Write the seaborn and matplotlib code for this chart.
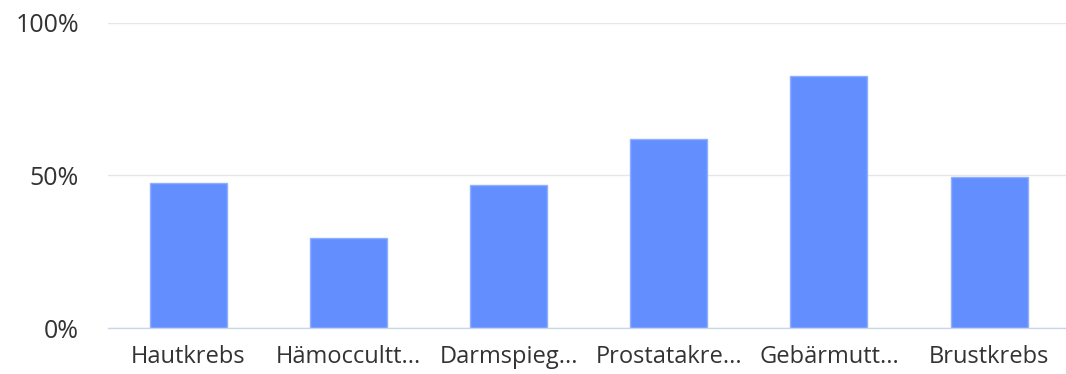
import matplotlib
matplotlib.use("Agg")
import matplotlib.pyplot as plt
import seaborn as sns
import pandas as pd
from matplotlib.ticker import FuncFormatter

categories = ["Hautkrebs", "Hämoccultt...", "Darmspieg...", "Prostatakre...", "Gebärmutt...", "Brustkrebs"]
shares = [47.6, 29.6, 47.0, 62.0, 82.5, 49.4]
y_ticks = [0, 50, 100]

df = pd.DataFrame({"kategorie": categories, "anteil": shares})

sns.set_theme(style="white")
plt.rcParams["font.family"] = ["Open Sans", "DejaVu Sans"]

fig = plt.figure(figsize=(10.66, 3.74), dpi=100)
ax = fig.add_axes([108 / 1066, 1 - 328 / 374, (1066 - 108) / 1066, (328 - 22.7) / 374])

sns.barplot(data=df, x="kategorie", y="anteil", color="#638ffe", saturation=1,
            width=0.48, edgecolor="#8fb0ff", linewidth=1, ax=ax, zorder=3)

ax.set_ylim(0, 100)
ax.set_xlim(-0.5, 5.48)
ax.set_yticks(y_ticks)
ax.yaxis.set_major_formatter(FuncFormatter(lambda v, _: f"{int(v)}%"))
ax.grid(axis="y", color="#e6e6e6", linewidth=1, zorder=0)
ax.grid(axis="x", visible=False)
for s in ["top", "right", "left"]:
    ax.spines[s].set_visible(False)
ax.spines["bottom"].set_color("#ccd6eb")
ax.spines["bottom"].set_linewidth(1)
ax.spines["bottom"].set_zorder(4)
ax.set_xlabel("")
ax.set_ylabel("")
ax.tick_params(axis="both", length=0, colors="#333333")
ax.tick_params(axis="x", pad=12, labelsize=17)
ax.tick_params(axis="y", pad=21, labelsize=18)

fig.savefig("out.png", dpi=100, facecolor="white")
